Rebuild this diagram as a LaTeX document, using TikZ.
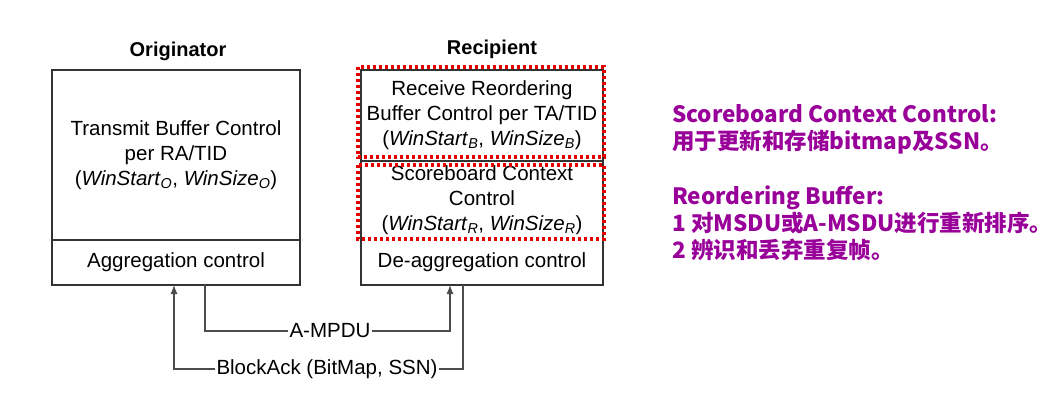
\documentclass[tikz,border=0pt]{standalone}
\usepackage{fontspec}
\usetikzlibrary{arrows.meta}
\setmainfont{Liberation Sans}
\newfontfamily\cjk{Noto Sans CJK SC}
\begin{document}
\begin{tikzpicture}[x=1pt,y=-1pt,
  lbl/.style={font=\fontsize{20.5}{25}\selectfont,align=center,inner sep=1pt},
  box/.style={draw=black!80,line width=1.2pt},
  red/.style={draw=red!90!black,line width=3.2pt,dash pattern=on 3pt off 3pt},
  arr/.style={draw=black!70,line width=1.2pt,-{Latex[length=9pt,width=7pt]}},
  note/.style={font=\cjk\bfseries\fontsize{22.5}{27}\selectfont,text=violet!80!magenta,align=left,anchor=north west,inner sep=0}]
\useasboundingbox (0,0) rectangle (1049,415);
\fill[white] (0,0) rectangle (1049,415);
\node[font=\bfseries\fontsize{20}{24}\selectfont] (ho) at (178,51) {Originator};
\node[font=\bfseries\fontsize{20}{24}\selectfont] (hr) at (492,49) {Recipient};
\draw[box] (52,70) rectangle (300,285);
\draw[box] (52,240) -- (300,240);
\draw[box] (361,70) rectangle (603,285);
\draw[box] (361,161) -- (603,161);
\node[lbl] (tb) at (176,155) {Transmit Buffer Control\\per RA/TID\\(\textit{WinStart}\textsubscript{\textit{O}}, \textit{WinSize}\textsubscript{\textit{O}})};
\node[lbl] (ag) at (176,262) {Aggregation control};
\node[lbl] (rr) at (482,115) {Receive Reordering\\Buffer Control per TA/TID\\(\textit{WinStart}\textsubscript{\textit{B}}, \textit{WinSize}\textsubscript{\textit{B}})};
\node[lbl] (sc) at (482,200) {Scoreboard Context\\Control\\(\textit{WinStart}\textsubscript{\textit{R}}, \textit{WinSize}\textsubscript{\textit{R}})};
\node[lbl] (da) at (482,262) {De-aggregation control};
\draw[red] (358,67) rectangle (604,157);
\draw[red] (358,165) rectangle (604,239);
\node[lbl,fill=white] (am) at (330,331) {A-MPDU};
\node[lbl,fill=white] (ba) at (327,369) {BlockAck (BitMap, SSN)};
\coordinate (a1) at (205,285);
\coordinate (a2) at (450,285);
\coordinate (b1) at (463,285);
\coordinate (b2) at (174,285);
\draw[arr] (a1) |- (am.west) (am.east) -| (a2);
\draw[arr] (b1) |- (ba.east) (ba.west) -| (b2);
\node[note] (n1) at (672,104) {Scoreboard Context Control:\\用于更新和存储bitmap及SSN。};
\node[note] (n2) at (672,186) {Reordering Buffer:\\1 对MSDU或A-MSDU进行重新排序。\\2 辨识和丢弃重复帧。};
\end{tikzpicture}
\end{document}
